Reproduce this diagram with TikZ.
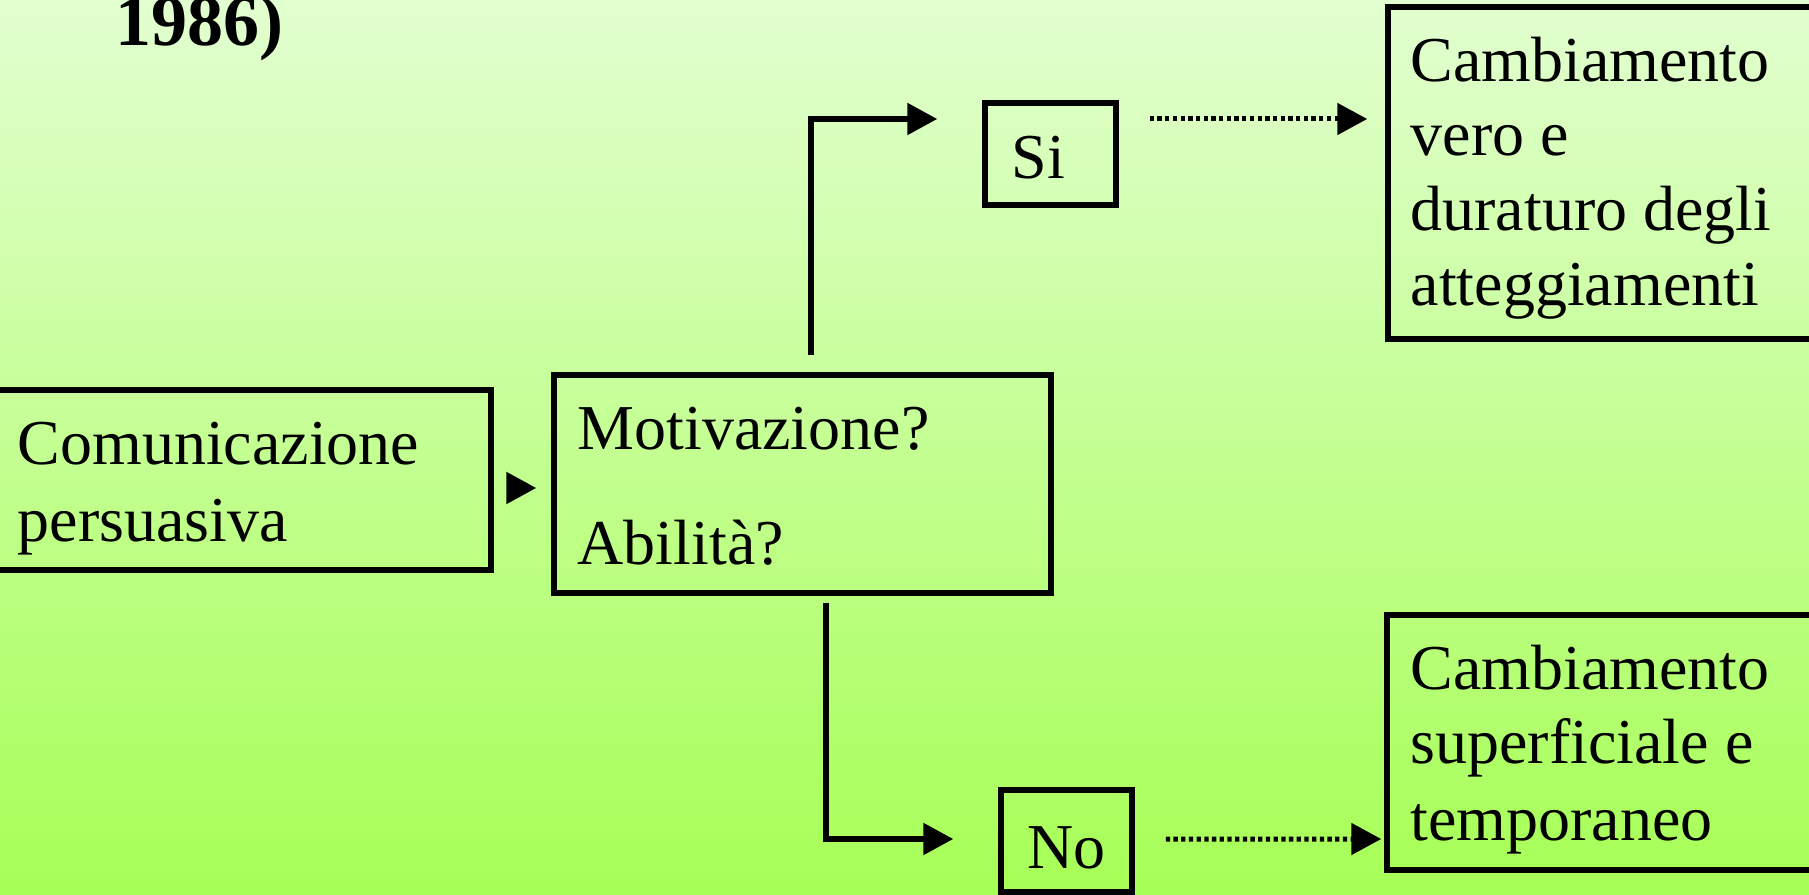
\documentclass[tikz,border=0pt]{standalone}
\usepackage{fontspec}
\setmainfont{Liberation Serif}
\usetikzlibrary{arrows.meta,calc}
\definecolor{bgtop}{HTML}{E2FFD0}
\definecolor{bgbottom}{HTML}{A6FF55}
\begin{document}
\begin{tikzpicture}[x=0.1mm,y=-0.1mm,
  box/.style={draw=black,line width=0.55mm,inner sep=0,fill=none},
  txt/.style={anchor=base west,inner sep=0,font=\fontsize{18.2}{21.3}\selectfont},
  arr/.style={line width=0.55mm,-{Triangle[length=3mm,width=3.1mm]}},
  dotarr/.style={line width=0.5mm,dash pattern=on 0.43mm off 0.34mm,-{Triangle[length=3mm,width=3.1mm]}}]
  \useasboundingbox (0,0) rectangle (1809,895);
  \clip (0,0) rectangle (1809,895);
  % background gradient
  \shade[top color=bgtop,bottom color=bgbottom] (0,0) rectangle (1809,895);

  % title fragment
  \node[anchor=base west,inner sep=0,font=\fontsize{20.5}{24}\selectfont\bfseries] (year) at (115,46) {1986)};

  % boxes
  \node[box,minimum width=50.1mm,minimum height=18mm] (comm) at (240.5,480) {};
  \node[box,minimum width=49.7mm,minimum height=21.8mm] (mot) at (802.5,484) {};
  \node[box,minimum width=13.1mm,minimum height=10.2mm] (si) at (1050.5,154) {};
  \node[box,minimum width=13.1mm,minimum height=10.2mm] (no) at (1066.5,841) {};
  \node[box,minimum width=44.2mm,minimum height=33.2mm] (res1) at (1609,173) {};
  \node[box,minimum width=44.2mm,minimum height=25.5mm] (res2) at (1608,742.5) {};

  % texts
  \node[txt] (comm1) at (17,465) {Comunicazione};
  \node[txt] (comm2) at (17,542) {persuasiva};
  \node[txt] (mot1) at (577,450) {Motivazione?};
  \node[txt] (mot2) at (577,565) {Abilità?};
  \node[txt] (sitext) at (1011,179) {Si};
  \node[txt] (notext) at (1027,868) {No};
  \node[txt] (ra1) at (1410,82) {Cambiamento};
  \node[txt] (ra2) at (1410,156) {vero e};
  \node[txt] (ra3) at (1410,231) {duraturo degli};
  \node[txt] (ra4) at (1410,306) {atteggiamenti};
  \node[txt] (rb1) at (1410,690) {Cambiamento};
  \node[txt] (rb2) at (1410,764) {superficiale e};
  \node[txt] (rb3) at (1410,840) {temporaneo};

  % connectors
  \draw[arr] ($(comm.east)+(16,8)$) -- ($(mot.west)+(-15,4)$);
  \draw[arr] ($(mot.north)+(8.5,-17)$) |- ($(si.west)+(-45,-35)$);
  \draw[arr] ($(mot.south)+(23.5,7)$) |- ($(no.west)+(-45,-2)$);
  \draw[dotarr] ($(si.east)+(31,-35)$) -- ($(res1.west)+(-18,-54)$);
  \draw[dotarr] ($(no.east)+(31,-2)$) -- ($(res2.west)+(-3,96.5)$);
\end{tikzpicture}
\end{document}
